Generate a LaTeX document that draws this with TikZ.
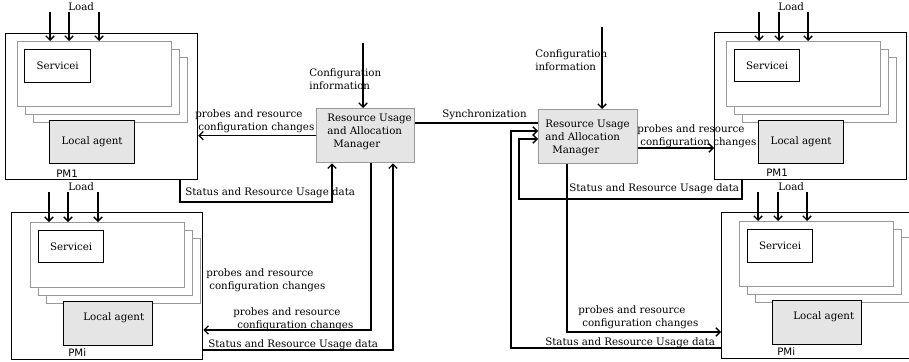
\documentclass[tikz,border=0pt]{standalone}
\usepackage{fontspec}
\setmainfont{DejaVu Serif}
\newfontfamily\pmfont{DejaVu Sans}
\usetikzlibrary{arrows.meta}

% one pixel of the drawing
\newlength{\pxl}
\setlength{\pxl}{0.25mm}

\tikzset{
  pm/.style={draw, line width=0.9pt, anchor=north west, inner sep=0pt},
  vm/.style={draw=gray!80, fill=white, line width=0.9pt, anchor=north west, inner sep=0pt},
  svc/.style={draw, fill=white, line width=0.9pt, anchor=north west, inner sep=0pt,
    font=\fontsize{7.3}{9}\selectfont},
  agent/.style={draw, fill=gray!20, line width=0.9pt, anchor=north west, inner sep=0pt,
    font=\fontsize{7.3}{9}\selectfont},
  mgr/.style={draw=gray!80, fill=gray!20, line width=0.9pt, anchor=north west, inner sep=0pt},
  txt/.style={anchor=west, inner sep=0pt, align=left, font=\fontsize{7.3}{9.5}\selectfont},
  pmname/.style={anchor=west, inner sep=0pt, font=\pmfont\fontsize{7.3}{9}\selectfont},
  flow/.style={line width=0.9pt, -{Straight Barb[length=3pt,width=6pt]}},
  wire/.style={line width=0.9pt},
}

\begin{document}
\begin{tikzpicture}[x=0.25mm, y=-0.25mm]

    \useasboundingbox (0,0) rectangle (909,362);
    \clip (0,0) rectangle (909,362);

    % PM1, left
    \node[pm, minimum width=192*\pxl, minimum height=146*\pxl] (pmA) at (5,33) {};
    \foreach \k in {2,1,0}
      \node[vm, minimum width=154*\pxl, minimum height=65*\pxl] (vmA\k) at (17+8*\k,41+8*\k) {};
    \node[svc, minimum width=66*\pxl, minimum height=33*\pxl] (svcA) at (24,49) {Servicei};
    \node[agent, minimum width=85*\pxl, minimum height=43*\pxl] (agentA) at (49,120) {Local agent};
    \node[pmname] (nameA) at (56,174) {PM1};
    \node[txt] (loadA) at (68,7) {Load};
    \foreach \x [count=\i] in {50,69,99} {
      \coordinate (ldA\i) at (\x,12);
      \draw[flow] (ldA\i) -- (ldA\i |- vmA0.north);
    }

    % PMi, left
    \node[pm, minimum width=191*\pxl, minimum height=147*\pxl] (pmB) at (11,212) {};
    \foreach \k in {2,1,0}
      \node[vm, minimum width=154*\pxl, minimum height=65*\pxl] (vmB\k) at (30+8*\k,222+8*\k) {};
    \node[svc, minimum width=65*\pxl, minimum height=32*\pxl] (svcB) at (38,230) {Servicei};
    \node[agent, minimum width=89*\pxl, minimum height=44*\pxl] (agentB) at (63,301) {};
    \node[txt] (agentBtxt) at (83,318) {Local agent};
    \node[pmname] (nameB) at (68,353) {PMi};
    \node[txt] (loadB) at (68,187) {Load};
    \foreach \x [count=\i] in {49,68,98} {
      \coordinate (ldB\i) at (\x,192);
      \draw[flow] (ldB\i) -- (ldB\i |- vmB0.north);
    }

    % PM1, right
    \node[pm, minimum width=192*\pxl, minimum height=147*\pxl] (pmC) at (714,32) {};
    \foreach \k in {2,1,0}
      \node[vm, minimum width=154*\pxl, minimum height=65*\pxl] (vmC\k) at (726+8*\k,41+8*\k) {};
    \node[svc, minimum width=65*\pxl, minimum height=32*\pxl] (svcC) at (734,49) {Servicei};
    \node[agent, minimum width=85*\pxl, minimum height=43*\pxl] (agentC) at (758,120) {Local agent};
    \node[pmname] (nameC) at (766,173) {PM1};
    \node[txt] (loadC) at (778,7) {Load};
    \foreach \x [count=\i] in {759,779,808} {
      \coordinate (ldC\i) at (\x,12);
      \draw[flow] (ldC\i) -- (ldC\i |- vmC0.north);
    }

    % PMi, right (runs off the page)
    \node[pm, minimum width=200*\pxl, minimum height=146*\pxl] (pmD) at (721,212) {};
    \foreach \k in {2,1,0}
      \node[vm, minimum width=154*\pxl, minimum height=65*\pxl] (vmD\k) at (739+8*\k,221+8*\k) {};
    \node[svc, minimum width=65*\pxl, minimum height=33*\pxl] (svcD) at (747,229) {Servicei};
    \node[agent, minimum width=89*\pxl, minimum height=44*\pxl] (agentD) at (772,300) {};
    \node[txt] (agentDtxt) at (793,317) {Local agent};
    \node[pmname] (nameD) at (777,352) {PMi};
    \node[txt] (loadD) at (778,187) {Load};
    \foreach \x [count=\i] in {758,778,807} {
      \coordinate (ldD\i) at (\x,192);
      \draw[flow] (ldD\i) -- (ldD\i |- vmD0.north);
    }

    % the two managers
    \node[mgr, minimum width=98*\pxl, minimum height=54*\pxl] (mgrA) at (316,108) {};
    \node[txt] (mgrAtxt) at (327,132) {Resource Usage\\and Allocation\\\hspace*{6\pxl}Manager};
    \node[mgr, minimum width=99*\pxl, minimum height=54*\pxl] (mgrB) at (538,109) {};
    \node[txt] (mgrBtxt) at (545,138) {Resource Usage\\and Allocation\\\hspace*{7\pxl}Manager};

    % configuration information
    \coordinate (cfgA) at (363,43);
    \draw[flow] (cfgA) -- (cfgA |- mgrA.north);
    \node[txt] (cfgAtxt) at (309,79) {Configuration\\information};
    \coordinate (cfgB) at (602,27);
    \draw[flow] (cfgB) -- (cfgB |- mgrB.north);
    \node[txt] (cfgBtxt) at (535,60) {Configuration\\information};

    % synchronization
    \coordinate (sync) at (476,123);
    \draw[wire] (sync -| mgrA.east) -- (sync -| mgrB.west);
    \node[txt] (synctxt) at (442,115) {Synchronization};

    % left side flows
    \draw[flow] (mgrA.west) -- (mgrA.west -| pmA.east);
    \node[txt] (prAtxt) at (195,121) {probes and resource\\\hspace*{3\pxl}configuration changes};
    \coordinate (stA) at (180,202);
    \coordinate (upA) at (332,202);
    \draw[flow] (stA |- pmA.south) -- (stA) -- (upA) -- (upA |- mgrA.south);
    \node[txt] (stAtxt) at (185,193) {Status and Resource Usage data};
    \node[txt] (prXtxt) at (206,280) {probes and resource\\\hspace*{3\pxl}configuration changes};
    \coordinate (dnA) at (371,330);
    \draw[flow] (dnA |- mgrA.south) -- (dnA) -- (dnA -| pmB.east);
    \node[txt] (prBtxt) at (233,319.5) {probes and resource\\\hspace*{4\pxl}configuration changes};
    \coordinate (rtA) at (393,350);
    \draw[flow] (rtA -| pmB.east) -- (rtA) -- (rtA |- mgrA.south);
    \node[txt] (stBtxt) at (208,345) {Status and Resource Usage data};

    % right side flows
    \coordinate (prC) at (676,148);
    \draw[flow] (prC -| mgrB.east) -- (prC -| pmC.west);
    \node[txt] (prCtxt) at (637,136.5) {probes and resource\\\hspace*{3\pxl}configuration changes};
    \coordinate (stC) at (742,199);
    \coordinate (inC) at (519,139);
    \draw[flow] (stC |- pmC.south) -- (stC) -| (inC) -- (inC -| mgrB.west);
    \node[txt] (stCtxt) at (569,189) {Status and Resource Usage data};
    \coordinate (dnB) at (567,332);
    \draw[flow] (dnB |- mgrB.south) -- (dnB) -- (dnB -| pmD.west);
    \node[txt] (prDtxt) at (578,317.5) {probes and resource\\\hspace*{4\pxl}configuration changes};
    \coordinate (stD) at (511,348);
    \coordinate (inD) at (511,131);
    \draw[flow] (stD -| pmD.west) -- (stD) -- (inD) -- (inD -| mgrB.west);
    \node[txt] (stDtxt) at (545,343) {Status and Resource Usage data};

\end{tikzpicture}
\end{document}
